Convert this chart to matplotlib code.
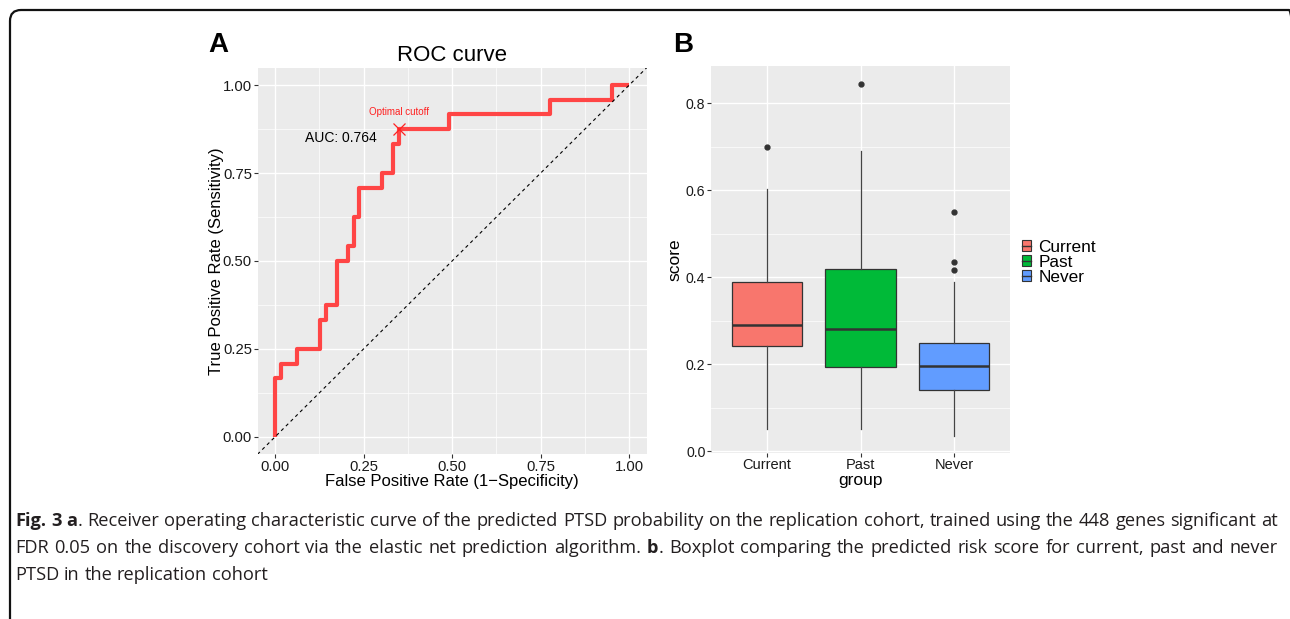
import matplotlib
matplotlib.use("Agg")
import matplotlib.pyplot as plt
from matplotlib.patches import FancyBboxPatch, Patch
from matplotlib.lines import Line2D
from matplotlib.transforms import IdentityTransform

# ROC curve vertices (steps-post)
fpr = [0, 0, 0.016, 0.063, 0.127, 0.143, 0.175, 0.206, 0.222, 0.238, 0.302,
       0.333, 0.349, 0.492, 0.778, 0.952, 1.0]
tpr = [0, 0.167, 0.208, 0.25, 0.333, 0.375, 0.5, 0.542, 0.625, 0.708, 0.75,
       0.833, 0.875, 0.917, 0.958, 1.0, 1.0]
cutoff_fpr, cutoff_tpr = 0.349, 0.875
auc_text = "AUC: 0.764"

# boxplot summary per group
groups = ["Current", "Past", "Never"]
box_colors = ["#F8766D", "#00BA38", "#619CFF"]
whislo = [0.051, 0.051, 0.036]
q1 = [0.241, 0.195, 0.140]
med = [0.291, 0.281, 0.197]
q3 = [0.388, 0.419, 0.249]
whishi = [0.602, 0.690, 0.390]
fliers = [[0.699], [0.845], [0.549, 0.434, 0.417]]

caption = [
    [[("Fig.", 1)], [("3", 1)], [("a", 1), (".", 0)], "Receiver operating characteristic curve of the predicted PTSD probability on the replication cohort, trained using the 448 genes significant at"],
    ["FDR 0.05 on the discovery cohort via the elastic net prediction algorithm.", [("b", 1), (".", 0)], "Boxplot comparing the predicted risk score for current, past and never"],
    ["PTSD in the replication cohort"],
]

W, H = 1290, 619
fig = plt.figure(figsize=(W / 100, H / 100), dpi=100)
plt.rcParams['font.family'] = ['Liberation Sans', 'DejaVu Sans']

GRID_BG = "#EBEBEB"
TICK_C = "#1A1A1A"


def style_axes(ax):
    ax.set_facecolor(GRID_BG)
    for s in ax.spines.values():
        s.set_visible(False)
    ax.grid(True, which='major', color='white', lw=1.0)
    ax.grid(True, which='minor', color='white', lw=0.5)
    ax.set_axisbelow(True)
    ax.tick_params(which='major', length=3, width=0.8, color='#333333',
                   labelcolor=TICK_C, pad=1)
    ax.tick_params(which='minor', length=0)


def px_axes(left, top, right, bottom):
    return fig.add_axes([left / W, 1 - bottom / H, (right - left) / W, (bottom - top) / H])


# ---- panel A: ROC ----
axA = px_axes(257.5, 67.7, 646.7, 454.3)
style_axes(axA)
axA.set_xlim(-0.05, 1.05)
axA.set_ylim(-0.05, 1.05)
ticks = [0, 0.25, 0.5, 0.75, 1.0]
axA.set_xticks(ticks)
axA.set_yticks(ticks)
axA.set_xticks([0.125, 0.375, 0.625, 0.875], minor=True)
axA.set_yticks([0.125, 0.375, 0.625, 0.875], minor=True)
axA.set_xticklabels([f"{t:.2f}" for t in ticks], fontsize=10.7)
axA.set_yticklabels([f"{t:.2f}" for t in ticks], fontsize=10.7)
axA.plot(fpr, tpr, drawstyle='steps-post', color='#FF4545', lw=3,
         solid_capstyle='butt', zorder=3)
axA.plot([-0.05, 1.05], [-0.05, 1.05], color='black', lw=0.8, ls=(0, (3, 3)), zorder=4)
axA.plot([cutoff_fpr], [cutoff_tpr], marker='x', color='#FF2020', ms=8, mew=0.9, zorder=5)
axA.text(cutoff_fpr, cutoff_tpr + 0.05, "Optimal cutoff", color='#FF2020', fontsize=7,
         ha='center', va='center')
axA.text(0.287, 0.849, auc_text, color='black', fontsize=10, ha='right', va='center')
axA.set_title("ROC curve", fontsize=16, pad=5)
axA.set_xlabel("False Positive Rate (1\u2212Specificity)", fontsize=12)
axA.set_ylabel("True Positive Rate (Sensitivity)", fontsize=12)
axA.xaxis.set_label_coords(0.5, -0.05)
axA.yaxis.set_label_coords(-0.085, 0.5)
fig.text(208 / W, 1 - 52 / H, "A", fontsize=20, fontweight='bold', va='baseline')

# ---- panel B: boxplot ----
axB = px_axes(711, 65.7, 1010, 452.7)
style_axes(axB)
stats = []
for i, g in enumerate(groups):
    stats.append(dict(label=g, whislo=whislo[i], q1=q1[i], med=med[i], q3=q3[i],
                      whishi=whishi[i], fliers=fliers[i]))
bp = axB.bxp(stats, positions=[1, 2, 3], widths=0.75, patch_artist=True, showcaps=False,
             boxprops=dict(edgecolor='#333333', lw=0.9),
             whiskerprops=dict(color='#444444', lw=0.9),
             medianprops=dict(color='#333333', lw=1.8),
             flierprops=dict(marker='o', markerfacecolor='#333333', markeredgecolor='#333333',
                             markersize=3.5))
for patch, c in zip(bp['boxes'], box_colors):
    patch.set_facecolor(c)
axB.set_xlim(0.4, 3.6)
axB.set_ylim(-0.003, 0.886)
axB.set_yticks([0, 0.2, 0.4, 0.6, 0.8])
axB.set_yticks([0.1, 0.3, 0.5, 0.7], minor=True)
axB.set_yticklabels(["0.0", "0.2", "0.4", "0.6", "0.8"], fontsize=10.2)
axB.set_xticks([1, 2, 3])
axB.set_xticklabels(groups, fontsize=10.5)
axB.grid(False, axis='x', which='minor')
axB.set_xlabel("group", fontsize=12.5)
axB.set_ylabel("score", fontsize=12.5)
axB.xaxis.set_label_coords(0.5, -0.052)
axB.yaxis.set_label_coords(-0.095, 0.5)
fig.text(673 / W, 1 - 52 / H, "B", fontsize=20, fontweight='bold', va='baseline')

handles = [(Patch(facecolor=c, edgecolor='#333333', lw=0.8),
            Line2D([], [], color='#333333', lw=1.0)) for c in box_colors]
fig.legend(handles, groups, loc='center left', bbox_to_anchor=(1022 / W, 1 - 262 / H),
           frameon=False, fontsize=12.4, labelspacing=0.0, handlelength=0.5,
           handleheight=0.55, handletextpad=0.45, borderpad=0, borderaxespad=0)

# ---- frame (runs off the right and bottom edges) ----
frame = FancyBboxPatch((10, -30), 1290, H - 10 + 30,
                       boxstyle="round,pad=0,rounding_size=11",
                       transform=IdentityTransform(), fill=False, ec='#111111', lw=1.6)
fig.add_artist(frame)

# ---- caption, justified word by word ----
renderer = fig.canvas.get_renderer()
FONT_CAP = 'Open Sans'


def make_words(line):
    words = []
    for part in line:
        if isinstance(part, str):
            words += [[(w, 0)] for w in part.split()]
        else:
            words.append(part)
    return words


def text_w(s, bold, fs):
    t = fig.text(0, 0, s, fontsize=fs, family=FONT_CAP,
                 fontweight='bold' if bold else 'normal', transform=IdentityTransform())
    w = t.get_window_extent(renderer).width
    t.remove()
    return w


x_left, x_right = 15, 1278
baselines = [526, 553, 580]
all_words = [make_words(line) for line in caption]

# pick a font size so the full lines fill the width with normal spacing
base = 12.0
sp = text_w("x x", 0, base) - text_w("xx", 0, base)
natural = []
for words in all_words[:2]:
    tot = sum(text_w(s, b, base) for w in words for s, b in w)
    natural.append(tot + sp * (len(words) - 1))
CAP_FS = min(14.0, base * (x_right - x_left) / max(natural) * 0.995)
space_w = text_w("x x", 0, CAP_FS) - text_w("xx", 0, CAP_FS)

for li, words in enumerate(all_words):
    widths = [[text_w(s, b, CAP_FS) for s, b in w] for w in words]
    total = sum(sum(ws) for ws in widths)
    if li < 2:
        gap = (x_right - x_left - total) / (len(words) - 1)
    else:
        gap = space_w
    x = x_left
    for w, ws in zip(words, widths):
        for (s, b), sw in zip(w, ws):
            fig.text(x, H - baselines[li], s, fontsize=CAP_FS, family=FONT_CAP,
                     fontweight='bold' if b else 'normal', color='#231F20',
                     transform=IdentityTransform(), va='baseline')
            x += sw
        x += gap

fig.savefig("out.png", dpi=100)
